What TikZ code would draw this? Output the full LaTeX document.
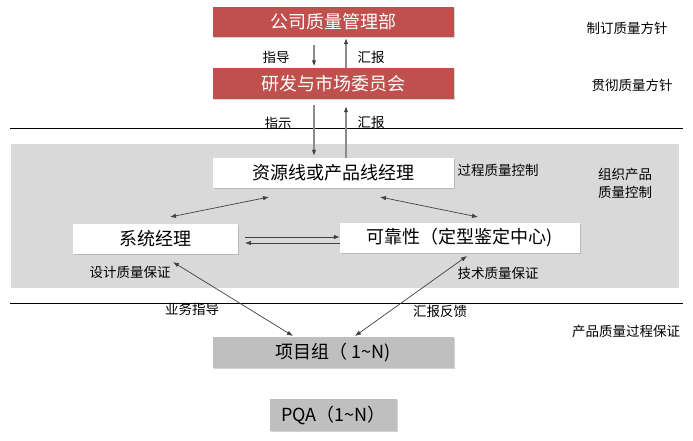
\documentclass[tikz,border=0pt]{standalone}
\usepackage{fontspec}
\setmainfont{Noto Sans CJK SC}
\usetikzlibrary{arrows.meta,shadows}
\definecolor{boxred}{RGB}{192,80,77}
\definecolor{bggray}{RGB}{217,217,217}
\definecolor{boxgray}{RGB}{191,191,191}
\definecolor{linegray}{RGB}{140,140,140}
\definecolor{dlinegray}{RGB}{64,64,64}
\begin{document}
\begin{tikzpicture}[x=1pt,y=-1pt,
  basebox/.style={inner sep=0pt, font=\fontsize{18}{20}\selectfont,
    drop shadow={opacity=0.35, shadow xshift=1pt, shadow yshift=-1.2pt}},
  redbox/.style={basebox, fill=boxred, text=white, minimum width=241pt, minimum height=30pt},
  whitebox/.style={basebox, fill=white, minimum height=30pt},
  graybox/.style={basebox, fill=boxgray, minimum height=31pt},
  lbl/.style={inner sep=0pt, font=\fontsize{13.5}{18}\selectfont, align=center},
  varrow/.style={draw=linegray, line width=1.1pt, -{Latex[length=6pt,width=4.5pt,color=dlinegray]}},
  darrow/.style={draw=dlinegray, line width=0.7pt, {Latex[length=6pt,width=4.5pt]}-{Latex[length=6pt,width=4.5pt]}},
  sarrow/.style={draw=dlinegray, line width=0.7pt, -{Latex[length=6pt,width=4.5pt]}}
]
\useasboundingbox (0,0) rectangle (693,441);
% background band
\fill[bggray] (10.5,143.5) rectangle (678.5,288);

% boxes
\node[redbox] (b1) at (333.5,22) {公司质量管理部};
\node[redbox, minimum height=31pt] (b2) at (333.5,83.5) {研发与市场委员会};
\node[whitebox, minimum width=241pt] (b3) at (333.5,173) {资源线或产品线经理};
\node[whitebox, minimum width=165pt] (b4) at (155.5,239) {系统经理};
\node[whitebox, minimum width=240pt] (b5) at (460,238) {可靠性（定型鉴定中心)};
\node[graybox, minimum width=241pt] (b6) at (333.5,352.5) {项目组（ 1\textasciitilde N)};
\node[graybox, minimum width=127pt, minimum height=32pt] (b7) at (333.5,415) {PQA（1\textasciitilde N）};

% labels
\node[lbl] (l1) at (276,57) {指导};
\node[lbl] (l2) at (371,57) {汇报};
\node[lbl] (l3) at (278,123) {指示};
\node[lbl] (l4) at (371,122) {汇报};
\node[lbl] (l5) at (498,170) {过程质量控制};
\node[lbl] (l6) at (625,183) {组织产品\\质量控制};
\node[lbl] (l7) at (130,272) {设计质量保证};
\node[lbl] (l8) at (498,273) {技术质量保证};
\node[lbl] (l9) at (192,309) {业务指导};
\node[lbl] (l10) at (440,311) {汇报反馈};
\node[lbl] (l11) at (626,331) {产品质量过程保证};
\node[lbl] (l12) at (627,28) {制订质量方针};
\node[lbl] (l13) at (632,85) {贯彻质量方针};

% separator lines
\draw[black, line width=0.8pt] (10,128) -- (683,128);
\draw[black, line width=0.8pt] (10,303) -- (683,303);

% vertical arrows
\coordinate (t1) at (314,45);
\coordinate (t2) at (346,0);
\coordinate (t3) at (314,105);
\coordinate (t4) at (346,0);
\draw[varrow, shorten >=1.5pt] (t1) -- (t1 |- b2.north);
\draw[varrow, shorten >=1pt] (t2 |- b2.north) -- (t2 |- b1.south);
\draw[varrow, shorten >=2pt] (t3) -- (t3 |- b3.north);
\draw[varrow, shorten >=7pt] (t4 |- b3.north) -- (t4 |- b2.south);

% diagonal double arrows
\coordinate (d1a) at (269,197);
\coordinate (d1b) at (170,217);
\coordinate (d2a) at (380,197);
\coordinate (d2b) at (478,217);
\draw[darrow] (d1a) -- (d1b);
\draw[darrow] (d2a) -- (d2b);

% arrows between system manager and reliability
\coordinate (m1) at (245,237);
\coordinate (m2) at (245,243);
\draw[sarrow] (m1) -- (m1 -| b5.west);
\draw[sarrow] (m2 -| b5.west) -- (m2);

% lower diagonals
\coordinate (e1a) at (173,262);
\coordinate (e1b) at (293,336);
\coordinate (e2a) at (467,256);
\coordinate (e2b) at (355,336);
\draw[darrow] (e1a) -- (e1b);
\draw[darrow] (e2a) -- (e2b);
\end{tikzpicture}
\end{document}
